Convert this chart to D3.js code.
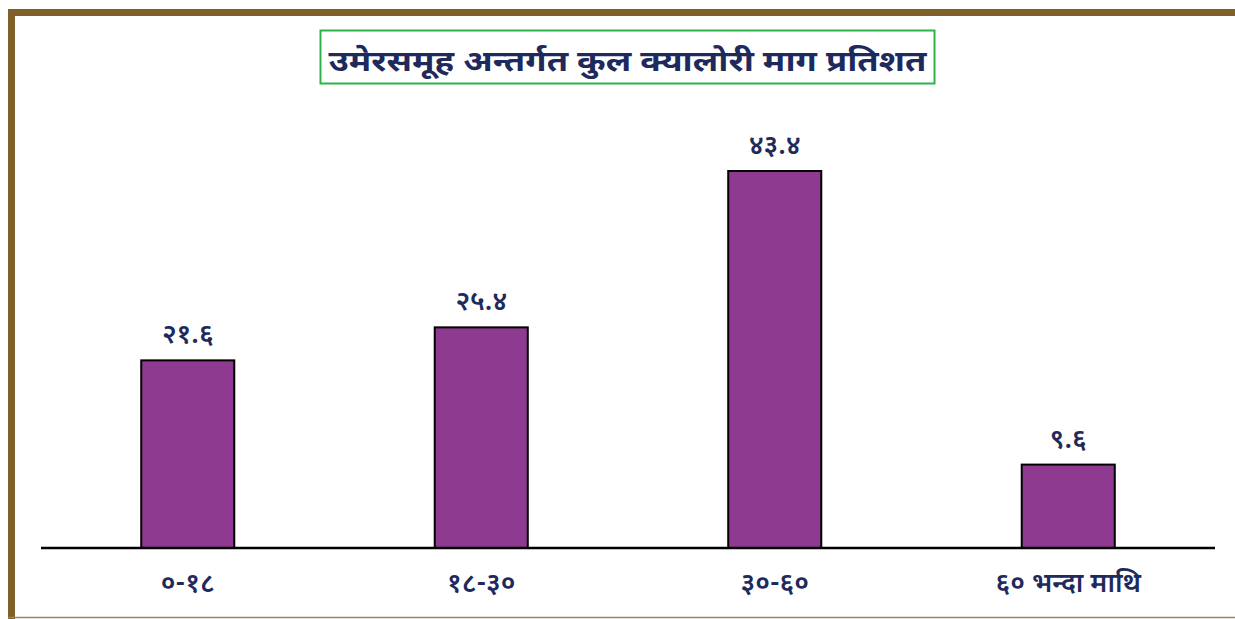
<!DOCTYPE html>
<html>
<head>
<meta charset="utf-8">
<script src="https://cdn.jsdelivr.net/npm/d3@7"></script>
<style>
  body { margin: 0; background: #fff; }
  svg { display: block; }
</style>
</head>
<body>
<div id="chart"></div>
<script>
// data
const categories = ["०-१८", "१८-३०", "३०-६०", "६० भन्दा माथि"];
const values = [21.6, 25.4, 43.4, 9.6];
const valueLabels = ["२१.६", "२५.४", "४३.४", "९.६"];
const title = "उमेरसमूह अन्तर्गत कुल क्यालोरी माग प्रतिशत";

const width = 1235, height = 619;
const fontFam = "'Noto Sans Devanagari', 'Noto Sans', 'Lohit Devanagari', sans-serif";
const navy = "#1f2a5c";

const svg = d3.select("#chart").append("svg")
    .attr("width", width)
    .attr("height", height);

// frame
svg.append("rect").attr("x", 0).attr("y", 0).attr("width", width).attr("height", height).attr("fill", "#fff");
svg.append("line").attr("x1", 11.5).attr("x2", 11.5).attr("y1", 9).attr("y2", 619)
    .attr("stroke", "#80602a").attr("stroke-width", 7);
svg.append("line").attr("x1", 8).attr("x2", width).attr("y1", 12.5).attr("y2", 12.5)
    .attr("stroke", "#80602a").attr("stroke-width", 7);
svg.append("line").attr("x1", 8).attr("x2", width).attr("y1", 617.5).attr("y2", 617.5)
    .attr("stroke", "#a08450").attr("stroke-width", 1.5);

// title
svg.append("rect").attr("x", 320.5).attr("y", 30.5).attr("width", 614).attr("height", 53)
    .attr("fill", "#fff").attr("stroke", "#2db34a").attr("stroke-width", 2);
svg.append("text")
    .attr("x", 627.5).attr("y", 71)
    .attr("text-anchor", "middle")
    .attr("font-family", fontFam)
    .attr("font-weight", "bold")
    .attr("font-size", 29)
    .attr("fill", navy)
    .attr("textLength", 598)
    .attr("lengthAdjust", "spacingAndGlyphs")
    .text(title);

const baseY = 548;
const x = d3.scaleBand().domain(categories).range([41, 1215]).paddingInner(0.683).paddingOuter(0.3415);
const y = d3.scaleLinear().domain([0, 43.4]).range([baseY, 171]);

const g = svg.append("g");

g.selectAll("rect.bar")
    .data(values)
    .enter()
    .append("rect")
    .attr("class", "bar")
    .attr("x", (d, i) => x(categories[i]))
    .attr("y", d => y(d))
    .attr("width", x.bandwidth())
    .attr("height", d => baseY - y(d))
    .attr("fill", "#8e3a91")
    .attr("stroke", "#000")
    .attr("stroke-width", 2);

g.selectAll("text.val")
    .data(values)
    .enter()
    .append("text")
    .attr("class", "val")
    .attr("x", (d, i) => x(categories[i]) + x.bandwidth() / 2)
    .attr("y", d => y(d) - 17)
    .attr("text-anchor", "middle")
    .attr("font-family", fontFam)
    .attr("font-weight", 600)
    .attr("font-size", 27)
    .attr("fill", navy)
    .text((d, i) => valueLabels[i]);

// axis
const axis = svg.append("g")
    .attr("transform", `translate(0,${baseY})`)
    .call(d3.axisBottom(x).tickSize(0).tickPadding(0));
axis.select(".domain").attr("stroke", "#000").attr("stroke-width", 2.5).attr("d", "M41,0H1215");
axis.selectAll("text")
    .attr("y", 44)
    .attr("dy", null)
    .attr("font-family", fontFam)
    .attr("font-weight", 600)
    .attr("font-size", 27)
    .attr("fill", navy);
</script>
</body>
</html>
